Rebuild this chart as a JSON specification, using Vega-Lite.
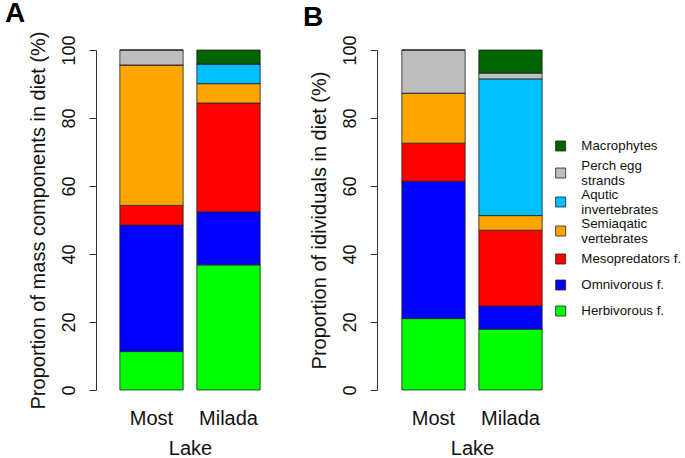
{
  "$schema": "https://vega.github.io/schema/vega-lite/v6.json",
  "padding": {"left": 5, "top": 0, "right": 0, "bottom": 0},
  "autosize": {"type": "pad"},
  "background": "white",
  "config": {
    "font": "Liberation Sans",
    "view": {"stroke": null},
    "axis": {"grid": false, "domainColor": "#333", "tickColor": "#333", "labelColor": "#111", "titleColor": "#111", "titleFontWeight": "normal"}
  },
  "datasets": {
    "A": [
      {"lake": "Most", "cat": "Herbivorous f.", "value": 11.3},
      {"lake": "Most", "cat": "Omnivorous f.", "value": 37.2},
      {"lake": "Most", "cat": "Mesopredators f.", "value": 5.8},
      {"lake": "Most", "cat": "Semiaqatic vertebrates", "value": 41.3},
      {"lake": "Most", "cat": "Aqutic invertebrates", "value": 0},
      {"lake": "Most", "cat": "Perch egg strands", "value": 4.4},
      {"lake": "Most", "cat": "Macrophytes", "value": 0},
      {"lake": "Milada", "cat": "Herbivorous f.", "value": 36.8},
      {"lake": "Milada", "cat": "Omnivorous f.", "value": 15.6},
      {"lake": "Milada", "cat": "Mesopredators f.", "value": 32.0},
      {"lake": "Milada", "cat": "Semiaqatic vertebrates", "value": 5.7},
      {"lake": "Milada", "cat": "Aqutic invertebrates", "value": 5.8},
      {"lake": "Milada", "cat": "Perch egg strands", "value": 0},
      {"lake": "Milada", "cat": "Macrophytes", "value": 4.1}
    ],
    "B": [
      {"lake": "Most", "cat": "Herbivorous f.", "value": 21.0},
      {"lake": "Most", "cat": "Omnivorous f.", "value": 40.4},
      {"lake": "Most", "cat": "Mesopredators f.", "value": 11.2},
      {"lake": "Most", "cat": "Semiaqatic vertebrates", "value": 14.7},
      {"lake": "Most", "cat": "Aqutic invertebrates", "value": 0},
      {"lake": "Most", "cat": "Perch egg strands", "value": 12.7},
      {"lake": "Most", "cat": "Macrophytes", "value": 0},
      {"lake": "Milada", "cat": "Herbivorous f.", "value": 17.9},
      {"lake": "Milada", "cat": "Omnivorous f.", "value": 6.8},
      {"lake": "Milada", "cat": "Mesopredators f.", "value": 22.3},
      {"lake": "Milada", "cat": "Semiaqatic vertebrates", "value": 4.3},
      {"lake": "Milada", "cat": "Aqutic invertebrates", "value": 40.2},
      {"lake": "Milada", "cat": "Perch egg strands", "value": 1.7},
      {"lake": "Milada", "cat": "Macrophytes", "value": 6.8}
    ]
  },
  "spacing": 36,
  "resolve": {"scale": {"color": "shared"}},
  "hconcat": [
    {
      "data": {"name": "A"},
      "transform": [{"window": [{"op": "row_number", "as": "layer"}], "groupby": ["lake"]}],
      "title": {"text": "A", "anchor": "start", "frame": "bounds", "fontSize": 28, "fontWeight": "bold", "dx": -23, "offset": 3, "color": "black"},
      "width": 154,
      "height": 340,
      "mark": {"type": "bar", "stroke": "#222", "strokeWidth": 0.8},
      "encoding": {
        "x": {"field": "lake", "type": "nominal", "sort": ["Most", "Milada"],
          "scale": {"paddingInner": 0.178, "paddingOuter": 0.089},
          "axis": {"title": "Lake", "labelAngle": 0, "ticks": false, "tickSize": 0, "domain": false, "labelFontSize": 20, "titleFontSize": 20, "labelPadding": 18, "titlePadding": 10}},
        "y": {"field": "value", "type": "quantitative", "stack": "zero",
          "scale": {"domain": [0, 100], "nice": false},
          "axis": {"title": "Proportion of mass components in diet (%)", "values": [0, 20, 40, 60, 80, 100], "labelAngle": -90, "labelAlign": "center", "labelBaseline": "alphabetic", "offset": 17, "tickSize": 7, "labelFontSize": 18, "titleFontSize": 20, "labelPadding": 15, "titlePadding": 12}},
        "order": {"field": "layer", "type": "quantitative", "sort": "ascending"},
        "color": {"field": "cat", "type": "nominal",
          "scale": {"domain": ["Macrophytes", "Perch egg strands", "Aqutic invertebrates", "Semiaqatic vertebrates", "Mesopredators f.", "Omnivorous f.", "Herbivorous f."],
            "range": ["#006400", "#BEBEBE", "#00BFFF", "#FFA500", "#FF0000", "#0000FF", "#00FF00"]},
          "legend": {"title": null, "orient": "none", "legendX": 441, "legendY": 83, "symbolType": "square", "symbolSize": 100, "symbolStrokeColor": "#222", "symbolStrokeWidth": 0.8, "symbolOpacity": 1, "labelFontSize": 13.3, "labelColor": "#111", "labelOffset": 14, "rowPadding": 0, "clipHeight": 26, "labelLineHeight": 14, "labelLimit": 200,
            "labelExpr": "datum.label == 'Perch egg strands' ? ['Perch egg', 'strands'] : datum.label == 'Aqutic invertebrates' ? ['Aqutic', 'invertebrates'] : datum.label == 'Semiaqatic vertebrates' ? ['Semiaqatic', 'vertebrates'] : datum.label",
            "encode": {"labels": {"update": {"dy": {"signal": "datum.value == 'Perch egg strands' || datum.value == 'Aqutic invertebrates' || datum.value == 'Semiaqatic vertebrates' ? -7 : 0"}}}}}}
      }
    },
    {
      "data": {"name": "B"},
      "transform": [{"window": [{"op": "row_number", "as": "layer"}], "groupby": ["lake"]}],
      "title": {"text": "B", "anchor": "start", "frame": "bounds", "fontSize": 28, "fontWeight": "bold", "dx": -6, "offset": 3, "color": "black"},
      "width": 154,
      "height": 340,
      "mark": {"type": "bar", "stroke": "#222", "strokeWidth": 0.8},
      "encoding": {
        "x": {"field": "lake", "type": "nominal", "sort": ["Most", "Milada"],
          "scale": {"paddingInner": 0.178, "paddingOuter": 0.089},
          "axis": {"title": "Lake", "labelAngle": 0, "ticks": false, "tickSize": 0, "domain": false, "labelFontSize": 20, "titleFontSize": 20, "labelPadding": 18, "titlePadding": 10}},
        "y": {"field": "value", "type": "quantitative", "stack": "zero",
          "scale": {"domain": [0, 100], "nice": false},
          "axis": {"title": "Proportion of idividuals in diet (%)", "values": [0, 20, 40, 60, 80, 100], "labelAngle": -90, "labelAlign": "center", "labelBaseline": "alphabetic", "offset": 18, "tickSize": 7, "labelFontSize": 18, "titleFontSize": 20, "labelPadding": 15, "titlePadding": 12}},
        "order": {"field": "layer", "type": "quantitative", "sort": "ascending"},
        "color": {"field": "cat", "type": "nominal"}
      }
    }
  ]
}
